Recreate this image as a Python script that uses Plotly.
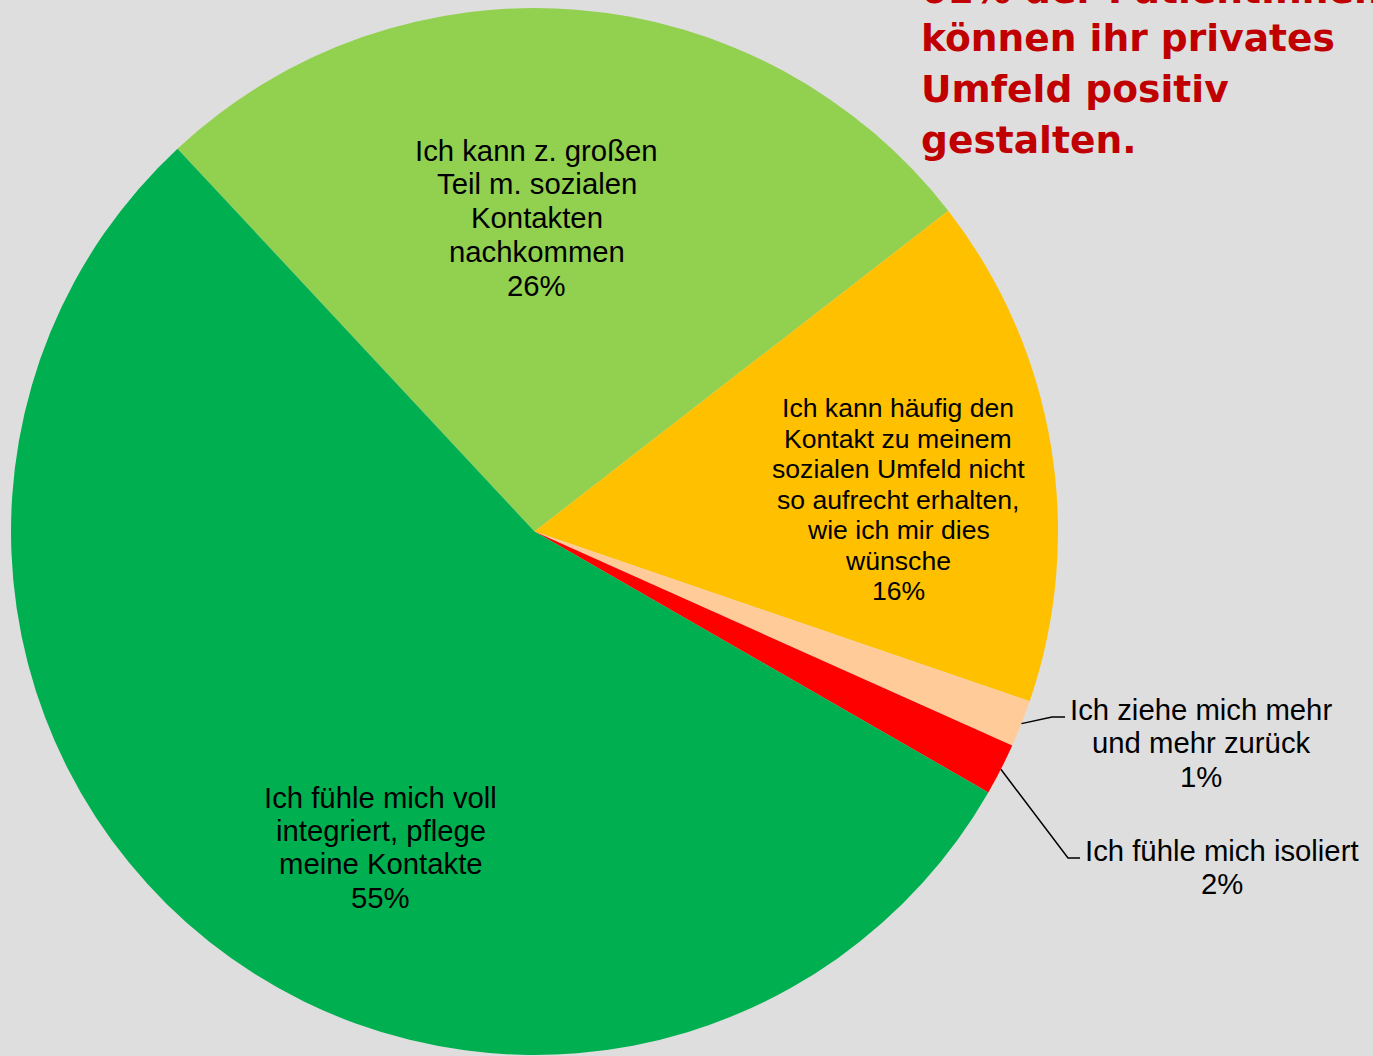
import math
import plotly.graph_objects as go

# Canvas size in pixels
W, H = 1373, 1056

# Survey answers (clockwise from the upper-left) and their shares in percent
categories = [
    "Ich kann z. großen<br>Teil m. sozialen<br>Kontakten<br>nachkommen",
    "Ich kann häufig den<br>Kontakt zu meinem<br>sozialen Umfeld nicht<br>so aufrecht erhalten,<br>wie ich mir dies<br>wünsche",
    "Ich ziehe mich mehr<br>und mehr zurück",
    "Ich fühle mich isoliert",
    "Ich fühle mich voll<br>integriert, pflege<br>meine Kontakte",
]
shares = [26.45, 15.75, 1.45, 1.6, 54.75]
colors = ["#92D050", "#FFC000", "#FFCC99", "#FF0000", "#00B050"]

headline = "61% der PatientInnen<br>können ihr privates<br>Umfeld positiv<br>gestalten."

# Pie geometry (pixels)
cx, cy, R = 534.5, 531.5, 523.5
ROTATION = -43.0


def px(x):
    return x / W


def py(y):
    return 1 - y / H


total = sum(shares)
percent_text = [f"{round(v / total * 100):.0f}%" for v in shares]

# mid angle of every slice, clockwise from 12 o'clock
mid_angles = []
acc = ROTATION
for v in shares:
    span = v / total * 360
    mid_angles.append(acc + span / 2)
    acc += span


def rim_point(angle_deg):
    a = math.radians(angle_deg)
    return cx + R * math.sin(a), cy - R * math.cos(a)


fig = go.Figure(
    go.Pie(
        labels=categories,
        values=shares,
        sort=False,
        direction="clockwise",
        rotation=ROTATION,
        marker=dict(colors=colors, line=dict(width=0)),
        textinfo="none",
        hoverinfo="label+percent",
        showlegend=False,
        domain=dict(x=[px(cx - R), px(cx + R)], y=[py(cy + R), py(cy - R)]),
    )
)


def text_block(lines, x, y_first, spacing, font, xanchor="center", align="center"):
    """One annotation per line so the line pitch can be set freely."""
    out = []
    for k, line in enumerate(lines):
        out.append(
            dict(
                x=px(x), y=py(y_first + k * spacing), xref="paper", yref="paper",
                text=line, showarrow=False, xanchor=xanchor, yanchor="middle",
                align=align, font=font,
            )
        )
    return out


# label placement: (center x, first line y, line pitch, font size) in pixels
label_layout = [
    (536.5, 150, 33.75, 29.3),
    (898, 408, 30.5, 26.6),
    (1201, 709, 33.5, 29.3),
    (1222, 850, 33.5, 29.3),
    (380.5, 797, 33.4, 29.3),
]

annotations = []
for i, (lx, ly, pitch, fs) in enumerate(label_layout):
    lines = categories[i].split("<br>") + [percent_text[i]]
    annotations += text_block(
        lines, lx, ly, pitch,
        dict(family="Liberation Sans, Arial", size=fs, color="#000000"),
    )

# headline in the upper right; its first line runs off the top edge
title_font = dict(family="DejaVu Sans", size=37.6, color="#C00000", weight="bold")
title_lines = headline.split("<br>")
annotations += text_block(title_lines[:1], 919, -10, 51, title_font,
                          xanchor="left", align="left")
annotations += text_block(title_lines[1:], 919, 38, 51, title_font,
                          xanchor="left", align="left")

# leader lines for the two thin slices: rim -> elbow -> label
leaders = [
    (2, (1052, 717), (1065, 717)),
    (3, (1068, 858), (1080, 858)),
]
shapes = []
for idx, elbow, end in leaders:
    sx, sy = rim_point(mid_angles[idx])
    path = (
        f"M {px(sx)},{py(sy)} L {px(elbow[0])},{py(elbow[1])} "
        f"L {px(end[0])},{py(end[1])}"
    )
    shapes.append(
        dict(type="path", xref="paper", yref="paper", path=path,
             line=dict(color="#000000", width=1.5))
    )

fig.update_layout(
    width=W, height=H,
    margin=dict(l=0, r=0, t=0, b=0),
    paper_bgcolor="#DEDEDE",
    plot_bgcolor="#DEDEDE",
    annotations=annotations,
    shapes=shapes,
    showlegend=False,
)

fig.write_html("out.html")
